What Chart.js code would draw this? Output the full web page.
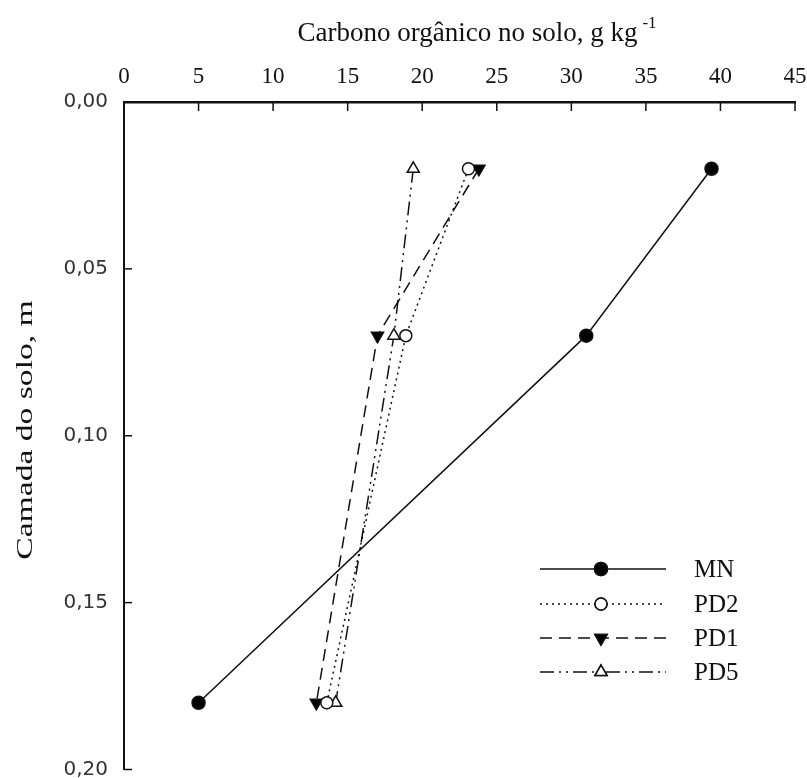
<!DOCTYPE html>
<html>
<head>
<meta charset="utf-8">
<script src="https://cdn.jsdelivr.net/npm/chart.js@4.4.1/dist/chart.umd.min.js"></script>
<style>
  html, body { margin: 0; padding: 0; background: #fff; }
  #wrap { width: 807px; height: 778px; position: relative; }
</style>
</head>
<body>
<div id="wrap"><canvas id="c" width="807" height="778"></canvas></div>
<script>
// ---- data ----
const depths = [0.02, 0.07, 0.18];            // soil layer, m
const seriesNames = ["MN", "PD2", "PD1", "PD5"];
const mnValues  = [39.4, 31.0, 5.0];
const pd2Values = [23.1, 18.9, 13.6];
const pd1Values = [23.8, 17.0, 12.9];
const pd5Values = [19.4, 18.1, 14.2];
const xTicks = [0, 5, 10, 15, 20, 25, 30, 35, 40, 45];
const yTicks = [0.00, 0.05, 0.10, 0.15, 0.20];
const xTitle = "Carbono orgânico no solo, g kg";
const xTitleSup = "-1";
const yTitle = "Camada do solo, m";

const SERIF = "'Liberation Serif', 'Times New Roman', serif";
const INK = "#111";

function pts(vals) { return vals.map((v, i) => ({ x: v, y: depths[i] })); }

const styles = [
  { dash: [],                  style: 'circle',   fill: '#000', rot: 0,   r: 6.5 },
  { dash: [2, 4],              style: 'circle',   fill: '#fff', rot: 0,   r: 6 },
  { dash: [12, 7],             style: 'triangle', fill: '#000', rot: 180, r: 7 },
  { dash: [14, 5, 2, 5, 2, 5], style: 'triangle', fill: '#fff', rot: 0,   r: 7 }
];
const allValues = [mnValues, pd2Values, pd1Values, pd5Values];

const datasets = allValues.map((vals, i) => ({
  label: seriesNames[i],
  data: pts(vals),
  showLine: true,
  borderColor: INK,
  borderWidth: 1.5,
  borderDash: styles[i].dash,
  pointStyle: styles[i].style,
  pointRotation: styles[i].rot,
  pointRadius: styles[i].r,
  pointHoverRadius: styles[i].r,
  pointBackgroundColor: styles[i].fill,
  pointBorderColor: INK,
  pointBorderWidth: 1.5,
  tension: 0
}));

// inward ticks, axis titles (with superscript) and legend
const decor = {
  id: 'decor',
  afterDraw(chart) {
    const ctx = chart.ctx;
    const xs = chart.scales.x, ys = chart.scales.y;
    const ca = chart.chartArea;
    ctx.save();
    ctx.strokeStyle = INK;
    ctx.lineWidth = 1.5;
    ctx.setLineDash([]);
    xTicks.forEach(v => {
      const px = xs.getPixelForValue(v);
      ctx.beginPath(); ctx.moveTo(px, ca.top); ctx.lineTo(px, ca.top + 9); ctx.stroke();
    });
    yTicks.forEach(v => {
      const py = ys.getPixelForValue(v);
      ctx.beginPath(); ctx.moveTo(ca.left, py); ctx.lineTo(ca.left + 8, py); ctx.stroke();
    });

    // x title with superscript
    ctx.fillStyle = INK;
    ctx.textBaseline = 'alphabetic';
    const F1 = "27px " + SERIF, F2 = "17px " + SERIF;
    ctx.font = F1;
    const w1 = ctx.measureText(xTitle).width;
    ctx.font = F2;
    const w2 = ctx.measureText(xTitleSup).width;
    const total = w1 + 5 + w2;
    const cx = 477;
    let sx = cx - total / 2;
    ctx.font = F1;
    ctx.textAlign = 'left';
    ctx.fillText(xTitle, sx, 41);
    ctx.font = F2;
    ctx.fillText(xTitleSup, sx + w1 + 5, 28);

    // y title (the reference lettering is elongated along the text)
    ctx.save();
    ctx.translate(32, 430);
    ctx.rotate(-Math.PI / 2);
    ctx.scale(1.4, 1);
    ctx.font = "24px " + SERIF;
    ctx.textAlign = 'center';
    ctx.fillText(yTitle, 0, 0);
    ctx.restore();

    // legend
    const rows = [569, 604, 638, 672];
    chart.data.datasets.forEach((ds, i) => {
      const y = rows[i];
      ctx.strokeStyle = INK;
      ctx.lineWidth = 1.5;
      ctx.setLineDash(ds.borderDash);
      ctx.beginPath(); ctx.moveTo(540, y); ctx.lineTo(666, y); ctx.stroke();
      ctx.setLineDash([]);
      Chart.helpers.drawPoint(ctx, {
        pointStyle: ds.pointStyle, rotation: ds.pointRotation,
        radius: ds.pointRadius, borderWidth: 1.5
      }, 601, y);
      ctx.fillStyle = ds.pointBackgroundColor;
      ctx.strokeStyle = INK;
      ctx.fill(); ctx.stroke();
      ctx.fillStyle = INK;
      ctx.font = "25px " + SERIF;
      ctx.textAlign = 'left';
      ctx.textBaseline = 'middle';
      ctx.fillText(ds.label, 694, y + 1);
    });
    ctx.restore();
  }
};

new Chart(document.getElementById('c'), {
  type: 'scatter',
  data: { datasets },
  options: {
    responsive: false,
    animation: false,
    events: [],
    layout: { padding: { top: 0, right: 12, bottom: 8, left: 0 } },
    plugins: { legend: { display: false }, tooltip: { enabled: false } },
    scales: {
      x: {
        type: 'linear', position: 'top', min: 0, max: 45,
        afterBuildTicks(s) { s.ticks = xTicks.map(v => ({ value: v })); },
        afterFit(s) { s.height = 102; s.paddingLeft = 0; s.paddingRight = 0; },
        grid: { display: false, drawTicks: false },
        border: { display: true, color: INK, width: 2.5 },
        ticks: { color: INK, padding: 11, maxRotation: 0, font: { family: SERIF, size: 23 } }
      },
      y: {
        type: 'linear', position: 'left', reverse: true, min: 0, max: 0.2,
        afterBuildTicks(s) { s.ticks = yTicks.map(v => ({ value: v })); },
        afterFit(s) { s.width = 124; s.paddingTop = 0; s.paddingBottom = 0; },
        grid: { display: false, drawTicks: false },
        border: { display: true, color: INK, width: 2 },
        ticks: { color: '#333', padding: 16, font: { family: "'DejaVu Sans', sans-serif", size: 20 },
          callback: v => v.toFixed(2).replace('.', ',') }
      }
    }
  },
  plugins: [decor]
});
</script>
</body>
</html>
